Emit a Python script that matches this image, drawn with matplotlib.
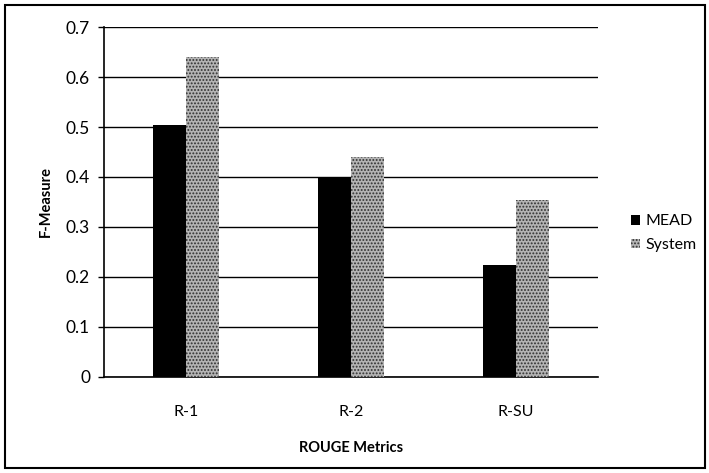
import matplotlib
matplotlib.use('Agg')
import matplotlib.pyplot as plt
from matplotlib.patches import Rectangle
import numpy as np

plt.rcParams['font.family'] = ['Lato', 'DejaVu Sans']
plt.rcParams['hatch.linewidth'] = 0.9

# ROUGE scores for the two summarisers
metrics = ['R-1', 'R-2', 'R-SU']
mead = [0.504, 0.40, 0.223]
system = [0.64, 0.44, 0.354]

fig = plt.figure(figsize=(7.09, 4.73), dpi=100)
ax = fig.add_axes([0.1467, 0.203, 0.6967, 0.7399])

x = np.arange(len(metrics))
width = 0.2

ax.bar(x - width / 2, mead, width, color='black', label='MEAD', zorder=3)
ax.bar(x + width / 2, system, width, color='#b4b4b4', edgecolor='#303030',
       hatch='.....', linewidth=0, label='System', zorder=3)

ax.set_xlim(-0.5, len(metrics) - 0.5)
ax.set_ylim(0, 0.7)
ax.set_yticks(np.arange(0, 0.71, 0.1))
ax.set_yticklabels(['0', '0.1', '0.2', '0.3', '0.4', '0.5', '0.6', '0.7'])
ax.set_xticks(x)
ax.set_xticklabels(metrics)

# Excel-style frame: left axis line plus horizontal gridlines
ax.grid(axis='y', color='black', linewidth=1.0, zorder=0)
for side in ['top', 'right']:
    ax.spines[side].set_visible(False)
ax.spines['left'].set_linewidth(1.2)
ax.spines['bottom'].set_linewidth(1.2)
ax.tick_params(axis='y', length=4, width=1.0, labelsize=12.5, pad=6)
ax.tick_params(axis='x', length=0, labelsize=11.5, pad=20)

ax.set_xlabel('ROUGE Metrics', fontsize=10.5, fontweight='bold', labelpad=16)
ax.set_ylabel('F-Measure', fontsize=10.5, fontweight='bold', labelpad=9)

fig.legend(loc='center left', bbox_to_anchor=(0.87, 0.507), frameon=False,
           fontsize=11.5, handlelength=0.55, handleheight=0.55, handletextpad=0.35,
           labelspacing=0.6)

# border round the whole chart
fig.patches.append(Rectangle((0.007, 0.011), 0.987, 0.978, transform=fig.transFigure,
                             fill=False, edgecolor='black', linewidth=1.5))

fig.savefig('out.png', dpi=100)
